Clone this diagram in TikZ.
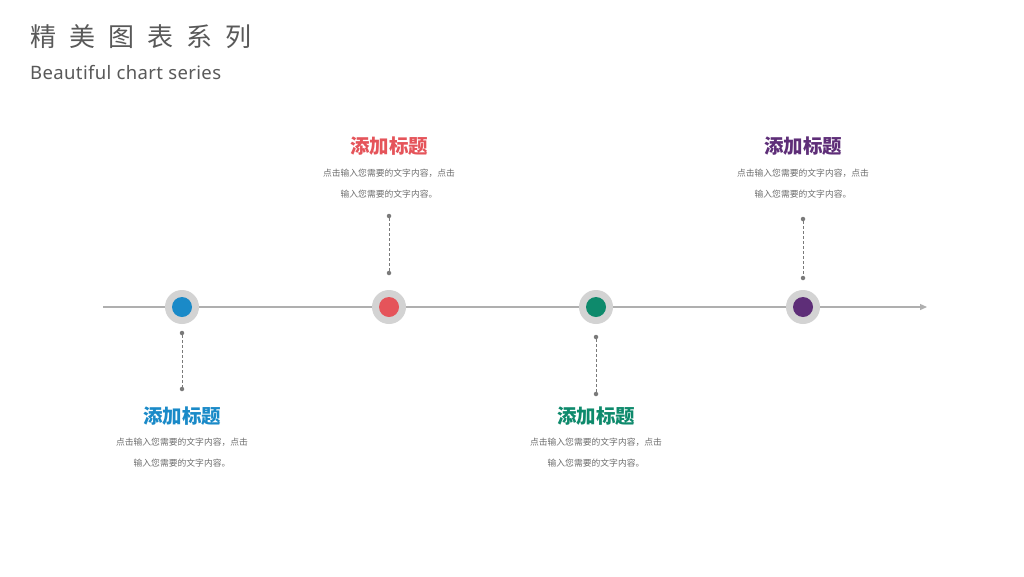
\documentclass[tikz,border=0pt]{standalone}
\usepackage{fontspec}
\setmainfont{Noto Sans}
\newfontfamily\cjk{Noto Sans CJK SC}
\newfontfamily\subfont[LetterSpace=2]{Noto Sans}
\usetikzlibrary{arrows.meta}
\definecolor{cblue}{HTML}{1A8AC8}
\definecolor{cred}{HTML}{E5545A}
\definecolor{cteal}{HTML}{0E8A6C}
\definecolor{cpurple}{HTML}{5E2E78}
\definecolor{ctext}{HTML}{595959}
\definecolor{cbody}{HTML}{6E6E6E}
\definecolor{cline}{HTML}{AFAFAF}
\definecolor{cring}{HTML}{D3D3D3}
\tikzset{
  ring/.style={circle, fill=cring, minimum size=34pt, inner sep=0pt},
  dotin/.style={circle, fill=#1, minimum size=20pt, inner sep=0pt},
  ttl/.style={text=#1, font=\cjk\fontsize{19.5}{19.5}\selectfont\bfseries, inner sep=0pt},
  body/.style={text=cbody, font=\cjk\fontsize{8.8}{21}\selectfont, align=center, inner sep=0pt},
  conn/.style={draw=ctext!80, densely dashed, line width=0.8pt},
  endpt/.style={circle, fill=ctext!80, minimum size=4.5pt, inner sep=0pt},
}
\begin{document}
\begin{tikzpicture}[x=1pt,y=-1pt]
\useasboundingbox (0,0) rectangle (1024,576);
\fill[white] (0,0) rectangle (1024,576);
% title
\node[anchor=west, text=ctext, font=\cjk\fontsize{26}{26}\selectfont, inner sep=0pt] (title) at (30,37)
  {精\hspace{13pt}美\hspace{13pt}图\hspace{13pt}表\hspace{13pt}系\hspace{13pt}列};
\node[anchor=west, text=ctext, font=\subfont\fontsize{18.5}{18.5}\selectfont, inner sep=0pt] (sub) at (30,73) {Beautiful chart series};
% timeline
\coordinate (ls) at (103,307);
\coordinate (le) at (927,307);
\draw[cline, line width=1.2pt, -{Triangle[length=7pt,width=6pt]}] (ls) -- (le);
% markers
\foreach \n/\x/\c in {a/182/cblue, b/389/cred, c/596/cteal, d/803/cpurple}{
  \node[ring] (r\n) at (\x,307) {};
  \node[dotin=\c] (m\n) at (\x,307) {};
}
% connectors
\node[endpt] (pa1) at (182,333) {};
\node[endpt] (pa2) at (182,389) {};
\draw[conn] (pa1) -- (pa2);
\node[endpt] (pb1) at (389,216) {};
\node[endpt] (pb2) at (389,273) {};
\draw[conn] (pb1) -- (pb2);
\node[endpt] (pc1) at (596,337) {};
\node[endpt] (pc2) at (596,394) {};
\draw[conn] (pc1) -- (pc2);
\node[endpt] (pd1) at (803,219) {};
\node[endpt] (pd2) at (803,278) {};
\draw[conn] (pd1) -- (pd2);
% titles & bodies
\node[ttl=cred] (tb) at (389,146) {添加标题};
\node[body] (bb) at (389,184) {点击输入您需要的文字内容，点击\\输入您需要的文字内容。};
\node[ttl=cpurple] (td) at (803,146) {添加标题};
\node[body] (bd) at (803,184) {点击输入您需要的文字内容，点击\\输入您需要的文字内容。};
\node[ttl=cblue] (ta) at (182,416) {添加标题};
\node[body] (ba) at (182,453) {点击输入您需要的文字内容，点击\\输入您需要的文字内容。};
\node[ttl=cteal] (tc) at (596,416) {添加标题};
\node[body] (bc) at (596,453) {点击输入您需要的文字内容，点击\\输入您需要的文字内容。};
\end{tikzpicture}
\end{document}
